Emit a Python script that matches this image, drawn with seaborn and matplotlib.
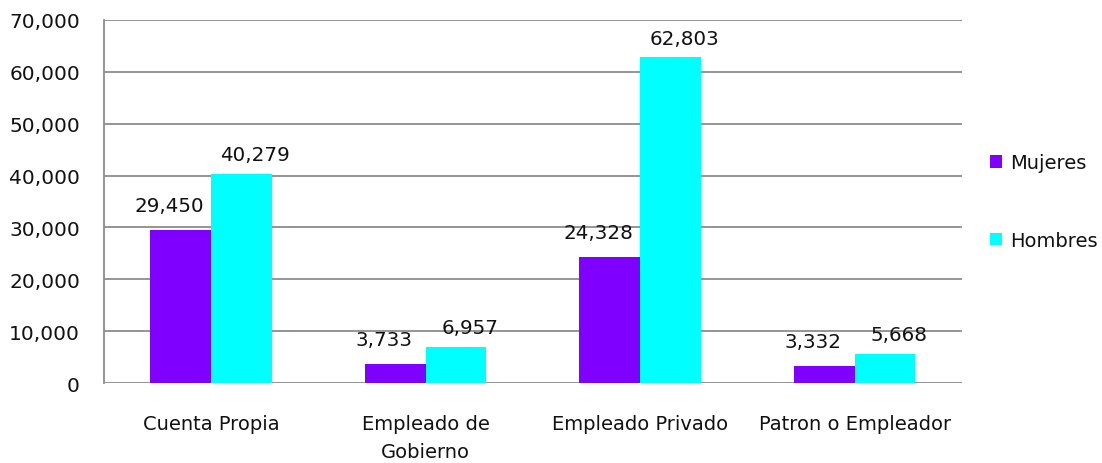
import numpy as np
import pandas as pd
import matplotlib
matplotlib.use("Agg")
import matplotlib.pyplot as plt
import seaborn as sns
from matplotlib.ticker import FuncFormatter

# ---------------------------
# Data
# ---------------------------
categorias = ["Cuenta Propia", "Empleado de\nGobierno", "Empleado Privado", "Patron o Empleador"]
mujeres = [29450, 3733, 24328, 3332]
hombres = [40279, 6957, 62803, 5668]
series = ["Mujeres", "Hombres"]
colores = ["#7F00FF", "#00FFFF"]

df = pd.DataFrame({
    "categoria": categorias * 2,
    "serie": [series[0]] * 4 + [series[1]] * 4,
    "valor": mujeres + hombres,
})

# ---------------------------
# Plot
# ---------------------------
sns.set_style("white")
plt.rcParams["font.family"] = ["DejaVu Sans"]
plt.rcParams["text.color"] = "#111111"
plt.rcParams["xtick.color"] = "#111111"
plt.rcParams["ytick.color"] = "#111111"

fig = plt.figure(figsize=(11.02, 4.64), dpi=100)
ax = fig.add_axes([0.094, 0.172, 0.779, 0.783])

sns.barplot(data=df, x="categoria", y="valor", hue="serie", palette=colores,
            width=0.565, saturation=1, linewidth=0, ax=ax, legend=True)

ax.set_ylim(0, 70000)
ax.set_yticks(np.arange(0, 70001, 10000))
ax.yaxis.set_major_formatter(FuncFormatter(lambda v, p: f"{int(v):,}"))
ax.set_xlim(-0.5, 3.5)
ax.set_xlabel("")
ax.set_ylabel("")

ax.grid(axis="y", color="#8c8c8c", linewidth=1.3)
ax.set_axisbelow(True)
for s in ["top", "right", "bottom"]:
    ax.spines[s].set_visible(False)
ax.spines["left"].set_color("#8c8c8c")
ax.spines["left"].set_linewidth(1.3)
ax.tick_params(axis="y", length=6, width=1.3, color="#8c8c8c", labelsize=14.5, pad=11)
ax.tick_params(axis="x", length=0, labelsize=14, pad=22)
for t in ax.get_xticklabels():
    t.set_linespacing(1.6)

# value labels (Excel style offsets)
offsets = {0: (-8, 11), 1: (10, 7)}
for i, cont in enumerate(ax.containers):
    for bar in cont:
        h = bar.get_height()
        ax.annotate(f"{int(h):,}", (bar.get_x() + bar.get_width() / 2, h),
                    xytext=offsets[i], textcoords="offset points",
                    ha="center", va="bottom", fontsize=14.3)

leg = ax.legend(loc="center left", bbox_to_anchor=(1.012, 0.50), frameon=False,
                fontsize=14, handlelength=0.6, handleheight=0.6,
                labelspacing=3.0, handletextpad=0.45)
for t in leg.get_texts():
    t.set_color("#111111")

fig.savefig("out.png", dpi=100)
